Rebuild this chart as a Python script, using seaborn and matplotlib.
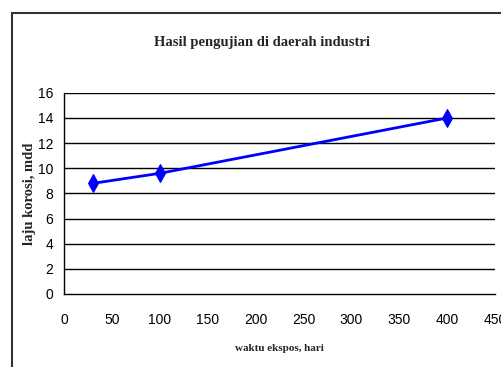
import matplotlib
matplotlib.use("Agg")
import matplotlib.pyplot as plt
import pandas as pd
import seaborn as sns
from matplotlib.patches import Rectangle

# data
waktu = [30, 100, 400]
laju = [8.8, 9.6, 14.0]
x_ticks = [0, 50, 100, 150, 200, 250, 300, 350, 400, 450]
y_ticks = [0, 2, 4, 6, 8, 10, 12, 14, 16]

df = pd.DataFrame({"waktu": waktu, "laju": laju})

sns.set_style("white")
plt.rcParams['font.family'] = ['Liberation Sans Narrow', 'Liberation Sans', 'DejaVu Sans']

fig = plt.figure(figsize=(5.01, 3.67), dpi=100)
ax = fig.add_axes([0.128, 0.199, 0.86, 0.548])

sns.lineplot(data=df, x="waktu", y="laju", ax=ax, color="#0000FF", linewidth=2,
             marker="d", markersize=9, markeredgecolor="#0000FF", zorder=3)

ax.set_xlim(0, 450)
ax.set_ylim(0, 16)
ax.set_xticks(x_ticks)
ax.set_yticks(y_ticks)
ax.tick_params(axis='both', labelsize=10, colors='black', direction='out', length=4, width=1)
ax.tick_params(axis='x', pad=10)
ax.tick_params(axis='y', pad=4)

for y in y_ticks[1:]:
    ax.axhline(y, color='black', linewidth=1, zorder=1)

ax.spines['top'].set_visible(False)
ax.spines['right'].set_visible(False)
ax.spines['left'].set_color('black')
ax.spines['bottom'].set_color('black')
ax.spines['left'].set_linewidth(1)
ax.spines['bottom'].set_linewidth(1)

ax.set_xlabel("waktu ekspos, hari", family='Liberation Serif', fontweight='bold',
              fontsize=8, labelpad=12)
ax.set_ylabel("laju korosi, mdd", family='Liberation Serif', fontweight='bold',
              fontsize=10.5, labelpad=1)
fig.text(0.523, 0.883, "Hasil pengujian di daerah industri", family='Liberation Serif',
         fontweight='bold', fontsize=10.5, ha='center', va='center')

# chart frame
fig.add_artist(Rectangle((12 / 501, -0.1), 1.2, 1 - 13 / 367 + 0.1, transform=fig.transFigure,
                         fill=False, edgecolor='#333333', linewidth=1.5))

fig.savefig("out.png", dpi=100)
